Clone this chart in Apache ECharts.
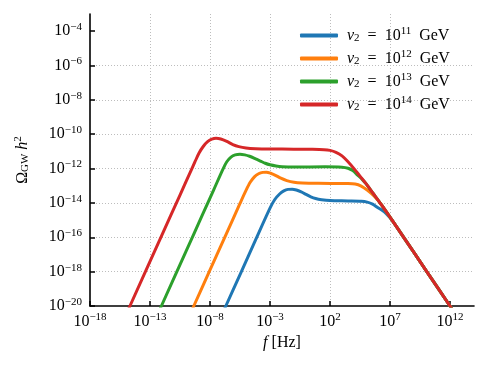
<!DOCTYPE html>
<html>
<head>
<meta charset="utf-8">
<title>Omega_GW h^2</title>
<script src="https://cdn.jsdelivr.net/npm/echarts@6/dist/echarts.min.js"></script>
<style>
  html, body { margin: 0; padding: 0; background: #fff; }
  #main { width: 488px; height: 368px; }
</style>
</head>
<body>
<div id="main"></div>
<script>
// all values are log10 (frequency in Hz, Omega_GW h^2)
const v2Exp = [11, 12, 13, 14]
const xTickExp = [-18, -13, -8, -3, 2, 7, 12]
const yTickExp = [-20, -18, -16, -14, -12, -10, -8, -6, -4]

// v2 = 10^11 GeV
const logF11 = [-7.0, -6.68, -5.45, -4.2, -3.0, -2.6, -2.2, -1.85, -1.5, -1.15, -0.8, -0.4, 0.0, 0.4, 0.8, 1.3, 2.0, 3.5, 4.6, 5.1, 5.55, 6.0, 6.5, 7.0, 7.2, 8.1, 10.05, 12.0, 12.5]
const logOmega11 = [-20.5, -20.0, -18.1, -16.15, -14.3, -13.8, -13.48, -13.3, -13.21, -13.2, -13.25, -13.36, -13.5, -13.64, -13.74, -13.81, -13.86, -13.88, -13.9, -13.95, -14.07, -14.28, -14.5, -14.86, -15.03, -15.96, -17.98, -20.0, -20.52]

// v2 = 10^12 GeV
const logF12 = [-9.7, -9.35, -8.1, -6.8, -5.5, -5.0, -4.65, -4.3, -3.95, -3.6, -3.3, -2.95, -2.55, -2.1, -1.6, -1.0, -0.3, 1.0, 3.5, 4.1, 4.6, 5.1, 5.6, 6.0, 6.28, 7.2, 8.1, 10.05, 12.0, 12.5]
const logOmega12 = [-20.54, -20.0, -18.06, -16.05, -14.03, -13.27, -12.8, -12.48, -12.3, -12.22, -12.21, -12.27, -12.39, -12.56, -12.7, -12.8, -12.84, -12.86, -12.87, -12.9, -13.02, -13.25, -13.55, -13.85, -14.1, -15.03, -15.96, -17.98, -20.0, -20.52]

// v2 = 10^13 GeV
const logF13 = [-12.4, -12.05, -10.0, -8.7, -7.7, -6.9, -6.6, -6.25, -5.9, -5.5, -5.1, -4.7, -4.2, -3.8, -3.4, -3.0, -2.5, -2.0, -1.0, 1.6, 3.0, 3.5, 3.9, 4.3, 4.7, 5.0, 5.6, 6.28, 7.2, 8.1, 10.05, 12.0, 12.5]
const logOmega13 = [-20.54, -20.0, -16.82, -14.8, -13.25, -12.0, -11.6, -11.33, -11.2, -11.16, -11.2, -11.28, -11.43, -11.56, -11.69, -11.78, -11.85, -11.89, -11.91, -11.9, -11.92, -11.98, -12.12, -12.38, -12.64, -12.88, -13.45, -14.1, -15.03, -15.96, -17.98, -20.0, -20.52]

// v2 = 10^14 GeV
const logF14 = [-15.0, -14.67, -12.0, -10.5, -9.65, -9.25, -8.9, -8.55, -8.2, -7.85, -7.5, -7.1, -6.6, -6.1, -5.6, -5.0, -4.2, -3.0, -1.0, 0.5, 1.5, 2.0, 2.5, 3.0, 3.5, 4.0, 4.5, 5.0, 5.6, 6.28, 7.2, 8.1, 10.05, 12.0, 12.5]
const logOmega14 = [-20.51, -20.0, -15.86, -13.54, -12.22, -11.6, -11.08, -10.7, -10.43, -10.29, -10.24, -10.28, -10.42, -10.6, -10.72, -10.8, -10.84, -10.86, -10.87, -10.88, -10.9, -10.94, -11.05, -11.26, -11.6, -12.0, -12.44, -12.88, -13.45, -14.1, -15.03, -15.96, -17.98, -20.0, -20.52]

const curves = [
  [logF11, logOmega11],
  [logF12, logOmega12],
  [logF13, logOmega13],
  [logF14, logOmega14],
]
const colors = ['#1f77b4', '#ff7f0e', '#2ca02c', '#d62728']

const serif = "'Liberation Serif', 'DejaVu Serif', serif"

function expLabel(v) {
  const s = v < 0 ? '\u2212' + (-v) : String(v)
  return '{b|10}{sup|' + s + '}'
}

const tickRich = {
  b: { fontSize: 16, fontFamily: serif, color: '#000' },
  sup: { fontSize: 11, fontFamily: serif, color: '#000', padding: [0, 0, 8, 0] },
}

const seriesNames = v2Exp.map(e => 'v2 = 1e' + e + ' GeV')

const series = curves.map((c, k) => ({
  name: seriesNames[k],
  type: 'line',
  symbol: 'none',
  smooth: 0.3,
  clip: true,
  lineStyle: { width: 3, color: colors[k], cap: 'round', join: 'round' },
  itemStyle: { color: colors[k] },
  data: c[0].map((x, i) => [x, c[1][i]]),
}))

const chart = echarts.init(document.getElementById('main'))
chart.setOption({
  animation: false,
  grid: { left: 90, right: 14, top: 14, bottom: 62 },
  legend: {
    orient: 'vertical',
    left: 295,
    top: 21,
    icon: 'roundRect',
    itemWidth: 38,
    itemHeight: 4,
    itemGap: 5,
    data: seriesNames,
    formatter: name => {
      const e = v2Exp[seriesNames.indexOf(name)]
      return '{it|v}{sub|2}{b|  =  10}{sup|' + e + '}{b|  GeV}'
    },
    textStyle: {
      padding: [0, 0, 0, 4],
      rich: {
        it: { fontSize: 16, fontFamily: serif, fontStyle: 'italic', color: '#000' },
        b: { fontSize: 16, fontFamily: serif, color: '#000' },
        sub: { fontSize: 11, fontFamily: serif, color: '#000', padding: [6, 0, 0, 0] },
        sup: { fontSize: 11, fontFamily: serif, color: '#000', padding: [0, 0, 8, 0] },
      },
    },
  },
  xAxis: {
    type: 'value',
    min: -18,
    max: 14,
    interval: 5,
    name: '{it|f}{b|\u00a0[Hz]}',
    nameLocation: 'middle',
    nameGap: 26,
    nameTextStyle: {
      rich: {
        it: { fontSize: 16, fontFamily: serif, fontStyle: 'italic', color: '#000' },
        b: { fontSize: 16, fontFamily: serif, color: '#000' },
      },
    },
    axisLine: { show: true, onZero: false, lineStyle: { color: '#000', width: 1.6 } },
    axisTick: { show: true, inside: true, length: 5, customValues: xTickExp, lineStyle: { color: '#000', width: 1.5 } },
    axisLabel: { customValues: xTickExp, margin: 6, formatter: expLabel, rich: tickRich },
    splitLine: { show: true, showMinLine: false, showMaxLine: false, lineStyle: { type: [1, 2], color: '#bdbdbd', width: 1 } },
  },
  yAxis: {
    type: 'value',
    min: -20,
    max: -3,
    interval: 2,
    name: '{o|\u03a9}{sub|GW}{b|\u00a0}{it|h}{sup|2}',
    nameLocation: 'middle',
    nameRotate: 90,
    nameGap: 58,
    nameTextStyle: {
      rich: {
        o: { fontSize: 16, fontFamily: serif, color: '#000' },
        b: { fontSize: 16, fontFamily: serif, color: '#000' },
        it: { fontSize: 16, fontFamily: serif, fontStyle: 'italic', color: '#000' },
        sub: { fontSize: 11, fontFamily: serif, color: '#000', padding: [6, 0, 0, 0] },
        sup: { fontSize: 11, fontFamily: serif, color: '#000', padding: [0, 0, 8, 0] },
      },
    },
    axisLine: { show: true, onZero: false, lineStyle: { color: '#000', width: 1.6 } },
    axisTick: { show: true, inside: true, length: 5, customValues: yTickExp, lineStyle: { color: '#000', width: 1.5 } },
    axisLabel: { customValues: yTickExp, margin: 8, formatter: expLabel, rich: tickRich },
    splitLine: { show: true, showMinLine: false, showMaxLine: false, lineStyle: { type: [1, 2], color: '#bdbdbd', width: 1 } },
  },
  series: series,
})
</script>
</body>
</html>
